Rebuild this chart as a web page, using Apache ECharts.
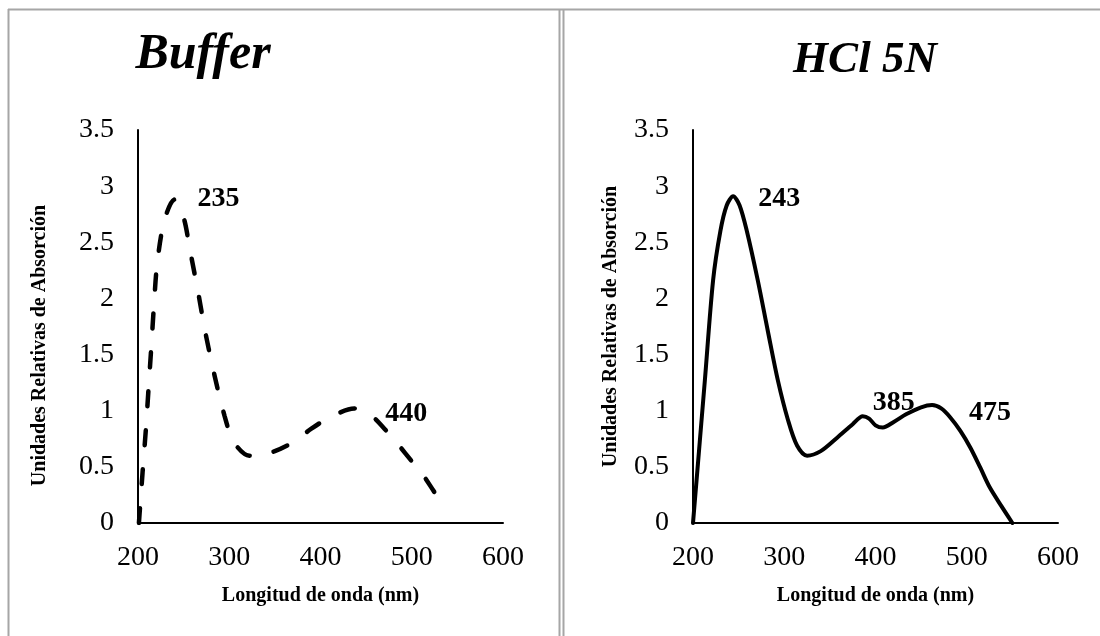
<!DOCTYPE html>
<html><head><meta charset="utf-8">
<script src="https://cdn.jsdelivr.net/npm/echarts@6/dist/echarts.min.js"></script>
<style>html,body{margin:0;padding:0;background:#fff}#c{width:1100px;height:636px}</style>
</head><body><div id="c"></div>
<script>
// ---- data ----
const panelTitles = ['Buffer', 'HCl 5N'];
const xAxisName = 'Longitud de onda (nm)';
const yAxisName = 'Unidades Relativas de Absorción';

const bufferX = [201, 205, 208.5, 211.5, 214.5, 217.5, 221, 229, 240, 250, 257, 266, 274, 284, 295, 305, 322, 335, 350, 370, 390, 410, 437, 455, 470, 485, 500, 513, 527, 540];
const bufferY = [0, 0.45, 0.82, 1.19, 1.56, 1.94, 2.31, 2.7, 2.88, 2.72, 2.43, 2.05, 1.69, 1.31, 0.95, 0.72, 0.6, 0.61, 0.64, 0.72, 0.84, 0.94, 1.02, 0.96, 0.84, 0.70, 0.55, 0.42, 0.25, 0.12];

const hclX = [200, 213, 222, 230, 237, 244, 251, 259, 271, 282, 293, 304, 314, 325, 340, 358, 375, 386, 393, 400, 408, 420, 434, 450, 462, 472, 482, 493, 504, 515, 525, 538, 550];
const hclY = [0, 1.27, 2.16, 2.6, 2.83, 2.91, 2.83, 2.6, 2.16, 1.71, 1.27, 0.92, 0.69, 0.6, 0.64, 0.76, 0.88, 0.95, 0.93, 0.87, 0.85, 0.9, 0.97, 1.03, 1.05, 1.02, 0.94, 0.82, 0.67, 0.49, 0.32, 0.15, 0];

const bufferPeakX = [240, 438];
const bufferPeakY = [2.88, 1.02];
const bufferPeakText = ['235', '440'];

const hclPeakX = [244, 386, 462];
const hclPeakY = [2.91, 0.95, 1.05];
const hclPeakText = ['243', '385', '475'];

// ---- styling ----
const SERIF = '"Liberation Serif", "Times New Roman", serif';
const bufferLabelOffsets = [[23, -1], [30, 5]];
const hclLabelOffsets = [[25, 3], [10, -14], [37, 8]];

const zip = (xs, ys) => xs.map((x, i) => [x, ys[i]]);

function peakSeries(xs, ys, texts, offsets, idx) {
  return {
    type: 'scatter', xAxisIndex: idx, yAxisIndex: idx,
    symbolSize: 0, silent: true, emphasis: { disabled: true },
    itemStyle: { opacity: 1, color: '#000' },
    data: xs.map((x, i) => ({
      value: [x, ys[i]],
      label: {
        show: true, formatter: texts[i], position: 'right', distance: 0,
        offset: offsets[i], color: '#000', opacity: 1, fontFamily: SERIF,
        fontSize: 28, fontWeight: 'bold', textBorderWidth: 0
      }
    }))
  };
}

function xAxisCfg(idx) {
  return {
    type: 'value', gridIndex: idx, min: 200, max: 600, interval: 100,
    name: xAxisName, nameLocation: 'middle', nameGap: 63,
    nameTextStyle: { color: '#000', fontFamily: SERIF, fontSize: 20, fontWeight: 'bold' },
    axisLine: { show: true, onZero: false, lineStyle: { color: '#000', width: 2 } },
    axisTick: { show: false }, splitLine: { show: false },
    axisLabel: { color: '#000', fontFamily: SERIF, fontSize: 28, margin: 21 }
  };
}
function yAxisCfg(idx, gap, pad) {
  return {
    type: 'value', gridIndex: idx, min: 0, max: 3.5, interval: 0.5,
    name: yAxisName, nameLocation: 'middle', nameGap: gap, nameRotate: 90,
    nameTextStyle: { color: '#000', fontFamily: SERIF, fontSize: 20, fontWeight: 'bold', padding: pad },
    axisLine: { show: true, onZero: false, lineStyle: { color: '#000', width: 2 } },
    axisTick: { show: false }, splitLine: { show: false },
    axisLabel: { color: '#000', fontFamily: SERIF, fontSize: 28, margin: 24 }
  };
}

const borderStyle = { stroke: '#a6a6a6', lineWidth: 2 };
const chart = echarts.init(document.getElementById('c'), null, { renderer: 'canvas' });
chart.setOption({
  backgroundColor: '#fff',
  animation: false,
  title: [
    { text: panelTitles[0], left: 198, top: 25, textAlign: 'center',
      textStyle: { color: '#000', fontFamily: SERIF, fontSize: 50, fontWeight: 'bold', fontStyle: 'italic', lineHeight: 50 } },
    { text: panelTitles[1], left: 860, top: 33, textAlign: 'center',
      textStyle: { color: '#000', fontFamily: SERIF, fontSize: 45, fontWeight: 'bold', fontStyle: 'italic', lineHeight: 45 } }
  ],
  grid: [
    { left: 138, top: 130, width: 365, height: 393, containLabel: false, outerBoundsMode: 'none' },
    { left: 693, top: 130, width: 365, height: 393, containLabel: false, outerBoundsMode: 'none' }
  ],
  xAxis: [xAxisCfg(0), xAxisCfg(1)],
  yAxis: [yAxisCfg(0, 88, [0, 38, 0, 0]), yAxisCfg(1, 72, [0, 0, 0, 0])],
  graphic: [
    { type: 'line', shape: { x1: 8, y1: 9.5, x2: 1100, y2: 9.5 }, style: borderStyle, silent: true },
    { type: 'line', shape: { x1: 8.5, y1: 9, x2: 8.5, y2: 636 }, style: borderStyle, silent: true },
    { type: 'line', shape: { x1: 559.5, y1: 9, x2: 559.5, y2: 636 }, style: borderStyle, silent: true },
    { type: 'line', shape: { x1: 563.5, y1: 9, x2: 563.5, y2: 636 }, style: borderStyle, silent: true }
  ],
  series: [
    {
      type: 'line', xAxisIndex: 0, yAxisIndex: 0, data: zip(bufferX, bufferY),
      smooth: 0.3, showSymbol: false, silent: true,
      lineStyle: { color: '#000', width: 4.5, type: [15, 24], cap: 'round' }
    },
    {
      type: 'line', xAxisIndex: 1, yAxisIndex: 1, data: zip(hclX, hclY),
      smooth: 0.3, showSymbol: false, silent: true,
      lineStyle: { color: '#000', width: 4, cap: 'round', join: 'round' }
    },
    peakSeries(bufferPeakX, bufferPeakY, bufferPeakText, bufferLabelOffsets, 0),
    peakSeries(hclPeakX, hclPeakY, hclPeakText, hclLabelOffsets, 1)
  ]
});
</script></body></html>
